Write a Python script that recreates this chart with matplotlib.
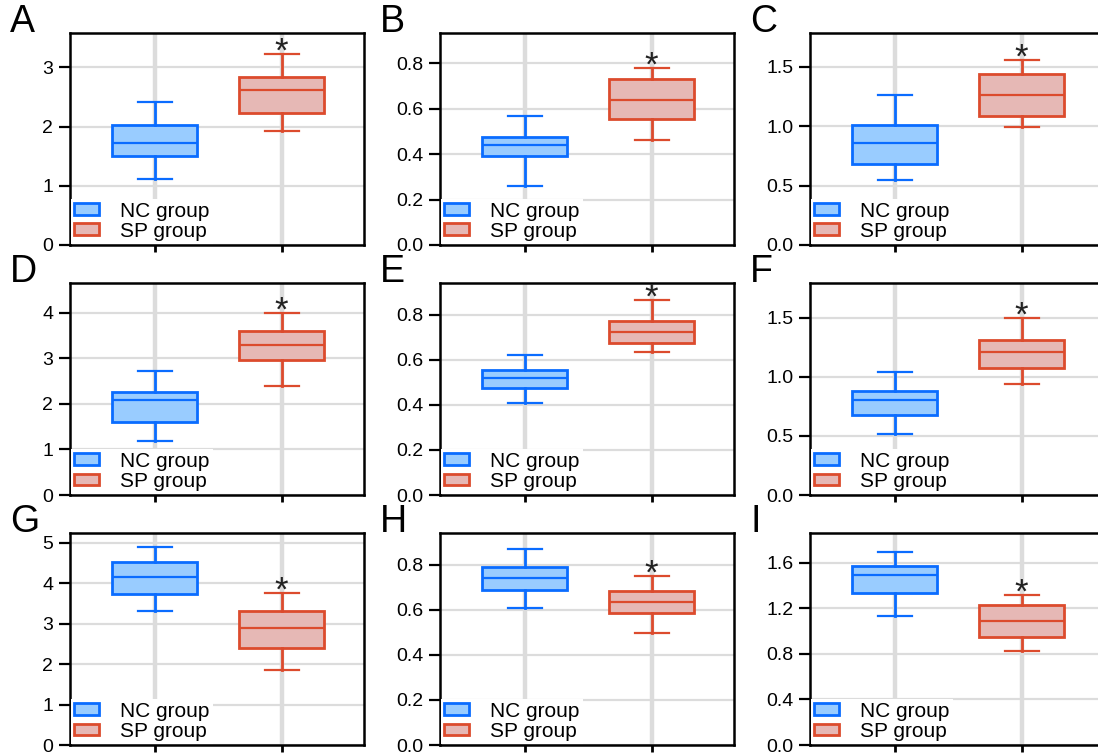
import matplotlib
matplotlib.use("Agg")
import matplotlib.pyplot as plt
from matplotlib.patches import Patch

plt.rcParams['font.family'] = ['Liberation Sans', 'DejaVu Sans']

letters = ['A', 'B', 'C', 'D', 'E', 'F', 'G', 'H', 'I']
groups = ['NC group', 'SP group']

# box stats per panel: [whislo, q1, med, q3, whishi]
nc_stats = [
    [1.11, 1.50, 1.72, 2.03, 2.42],
    [0.26, 0.391, 0.441, 0.475, 0.565],
    [0.55, 0.68, 0.86, 1.01, 1.26],
    [1.19, 1.61, 2.09, 2.26, 2.71],
    [0.41, 0.475, 0.52, 0.555, 0.62],
    [0.52, 0.675, 0.808, 0.879, 1.037],
    [3.31, 3.72, 4.16, 4.53, 4.90],
    [0.61, 0.69, 0.74, 0.79, 0.873],
    [1.13, 1.33, 1.495, 1.571, 1.69],
]
sp_stats = [
    [1.92, 2.23, 2.61, 2.84, 3.23],
    [0.46, 0.552, 0.638, 0.73, 0.78],
    [0.99, 1.09, 1.26, 1.44, 1.56],
    [2.39, 2.96, 3.29, 3.60, 4.00],
    [0.636, 0.676, 0.724, 0.773, 0.867],
    [0.94, 1.076, 1.212, 1.308, 1.50],
    [1.85, 2.40, 2.90, 3.31, 3.76],
    [0.497, 0.585, 0.636, 0.686, 0.75],
    [0.825, 0.95, 1.089, 1.226, 1.32],
]
ytops = [3.58, 0.932, 1.785, 4.65, 0.942, 1.794, 5.24, 0.942, 1.86]
yticks = [
    [0, 1, 2, 3],
    [0.0, 0.2, 0.4, 0.6, 0.8],
    [0.0, 0.5, 1.0, 1.5],
    [0, 1, 2, 3, 4],
    [0.0, 0.2, 0.4, 0.6, 0.8],
    [0.0, 0.5, 1.0, 1.5],
    [0, 1, 2, 3, 4, 5],
    [0.0, 0.2, 0.4, 0.6, 0.8],
    [0.0, 0.4, 0.8, 1.2, 1.6],
]
ytick_fmt = ['%d', '%.1f', '%.1f', '%d', '%.1f', '%.1f', '%d', '%.1f', '%.1f']

nc_face, nc_edge = '#99ccff', '#0a6cff'
sp_face, sp_edge = '#e6b8b5', '#dc4b2d'

W, H = 1098, 753
fig = plt.figure(figsize=(W / 100, H / 100), dpi=100)

col_left = [70, 440, 810]
row_top = [33, 283, 533]
aw, ah = 294, 212


def mkstats(s, label):
    return dict(whislo=s[0], q1=s[1], med=s[2], q3=s[3], whishi=s[4], fliers=[], label=label)


for i in range(9):
    r, c = divmod(i, 3)
    ax = fig.add_axes([col_left[c] / W, 1 - (row_top[r] + ah) / H, aw / W, ah / H])

    for pos, st, face, edge in [(1, nc_stats[i], nc_face, nc_edge), (2, sp_stats[i], sp_face, sp_edge)]:
        ax.bxp([mkstats(st, groups[pos - 1])], positions=[pos], widths=0.67,
               patch_artist=True, showfliers=False, capwidths=0.27,
               boxprops=dict(facecolor=face, edgecolor=edge, linewidth=2),
               medianprops=dict(color=edge, linewidth=1.6),
               whiskerprops=dict(color=edge, linewidth=2),
               capprops=dict(color=edge, linewidth=1.6),
               zorder=3)

    # significance mark above the SP whisker
    ax.annotate('*', xy=(2, sp_stats[i][4]), xytext=(0, -5.5), textcoords='offset points',
                ha='center', va='baseline', fontsize=25, color='#222222', zorder=4)

    ax.set_xlim(0.33, 2.65)
    ax.set_ylim(0, ytops[i])
    ax.set_xticks([1, 2])
    ax.set_xticklabels(['', ''])
    ax.set_yticks(yticks[i])
    ax.set_yticklabels([ytick_fmt[i] % v for v in yticks[i]])
    ax.xaxis.grid(True, color='#dcdcdc', linewidth=3.2, zorder=0)
    ax.yaxis.grid(True, color='#dcdcdc', linewidth=1.6, zorder=0)
    ax.set_axisbelow(True)
    for sp in ax.spines.values():
        sp.set_linewidth(1.8)
        sp.set_color('black')
    ax.tick_params(axis='y', length=8, width=1.6, labelsize=14, pad=4)
    ax.tick_params(axis='x', length=5, width=2)

    handles = [Patch(facecolor=nc_face, edgecolor=nc_edge, linewidth=2),
               Patch(facecolor=sp_face, edgecolor=sp_edge, linewidth=2)]
    leg = ax.legend(handles, groups, loc='lower left', fontsize=15, frameon=True,
                    borderaxespad=0.05, borderpad=0.15, handlelength=1.2, handleheight=0.5,
                    handletextpad=1.0, labelspacing=0.05, fancybox=False)
    leg.get_frame().set_linewidth(0)
    leg.get_frame().set_facecolor('white')
    leg.get_frame().set_alpha(1)
    leg.set_zorder(5)

    fig.text((col_left[c] - 60) / W, 1 - (row_top[r] - 1) / H, letters[i],
             fontsize=27, ha='left', va='baseline')

fig.savefig('out.png', dpi=100)
